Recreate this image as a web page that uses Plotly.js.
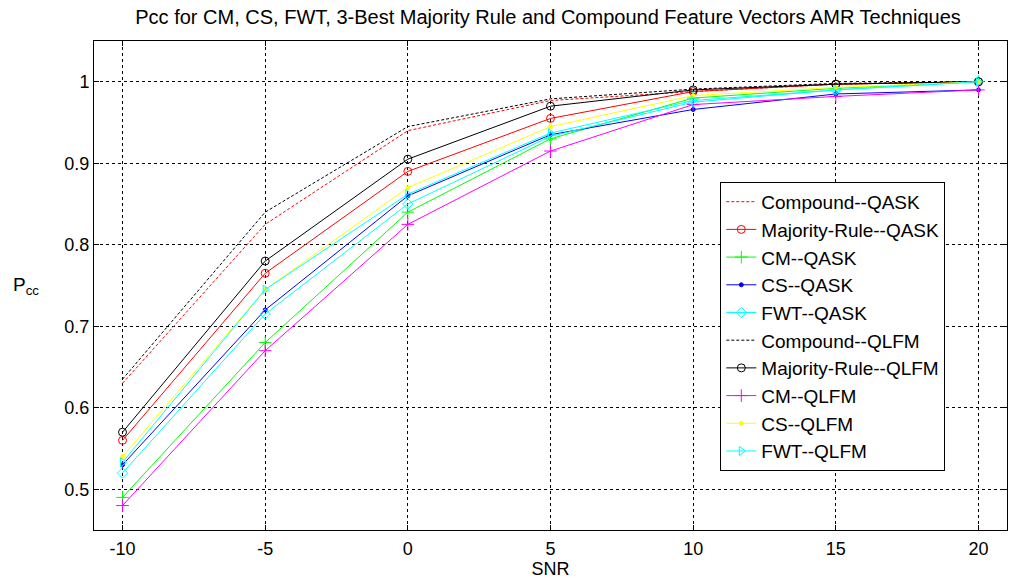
<!DOCTYPE html>
<html>
<head>
<meta charset="utf-8">
<script src="https://cdn.plot.ly/plotly-3.0.1.min.js"></script>
<style>html,body{margin:0;padding:0;background:#fff;}#chart{width:1013px;height:581px;}</style>
</head>
<body>
<div id="chart"></div>
<script>
const snr = [-10, -5, 0, 5, 10, 15, 20];
const xTickLabels = ['-10', '-5', '0', '5', '10', '15', '20'];
const yTickVals = [0.5, 0.6, 0.7, 0.8, 0.9, 1];
const yTickLabels = ['0.5', '0.6', '0.7', '0.8', '0.9', '1'];

const compoundQASK = [0.63, 0.825, 0.94, 0.977, 0.988, 0.997, 1.0];
const majorityQASK = [0.56, 0.765, 0.89, 0.955, 0.988, 0.997, 1.0];
const cmQASK = [0.49, 0.68, 0.84, 0.93, 0.98, 0.992, 1.0];
const csQASK = [0.53, 0.72, 0.86, 0.935, 0.966, 0.985, 0.99];
const fwtQASK = [0.52, 0.715, 0.85, 0.933, 0.975, 0.99, 1.0];
const compoundQLFM = [0.635, 0.84, 0.945, 0.979, 0.991, 0.998, 1.0];
const majorityQLFM = [0.57, 0.78, 0.905, 0.97, 0.99, 0.997, 1.0];
const cmQLFM = [0.48, 0.67, 0.825, 0.915, 0.972, 0.982, 0.99];
const csQLFM = [0.54, 0.745, 0.87, 0.945, 0.983, 0.993, 1.0];
const fwtQLFM = [0.533, 0.745, 0.862, 0.937, 0.977, 0.99, 1.0];

const names = ['Compound--QASK', 'Majority-Rule--QASK', 'CM--QASK', 'CS--QASK', 'FWT--QASK',
               'Compound--QLFM', 'Majority-Rule--QLFM', 'CM--QLFM', 'CS--QLFM', 'FWT--QLFM'];

function tr(name, y, color, dash, symbol, msize) {
  const t = {
    x: snr, y: y, name: name, type: 'scatter',
    mode: symbol ? 'lines+markers' : 'lines',
    line: {color: color, width: 1, dash: dash || 'solid'}
  };
  if (symbol) t.marker = {symbol: symbol, size: msize || 7, color: color, line: {color: color, width: 1}};
  return t;
}

const data = [
  tr(names[0], compoundQASK, '#ff0000', '3px,2px', null),
  tr(names[1], majorityQASK, '#ff0000', 'solid', 'circle-open', 8),
  tr(names[2], cmQASK, '#00ff00', 'solid', 'cross-thin-open', 9),
  tr(names[3], csQASK, '#0000ff', 'solid', 'circle', 4),
  tr(names[4], fwtQASK, '#00ffff', 'solid', 'diamond-open', 8),
  tr(names[5], compoundQLFM, '#000000', '3px,2px', null),
  tr(names[6], majorityQLFM, '#000000', 'solid', 'circle-open', 8),
  tr(names[7], cmQLFM, '#ff00ff', 'solid', 'cross-thin-open', 9),
  tr(names[8], csQLFM, '#ffff00', 'solid', 'circle', 4),
  tr(names[9], fwtQLFM, '#00ffff', 'solid', 'triangle-right-open', 8)
];

const FAM = 'Liberation Sans, Arial, sans-serif';
const font = {family: FAM, size: 18, color: '#000'};

const layout = {
  width: 1013, height: 581,
  margin: {l: 94, r: 6, t: 41, b: 51},
  paper_bgcolor: '#fff', plot_bgcolor: '#fff',
  font: font,
  title: {text: 'Pcc for CM, CS, FWT, 3-Best Majority Rule and Compound Feature Vectors AMR Techniques',
          font: {family: FAM, size: 20, color: '#000'},
          x: 0.541, xanchor: 'center', y: 0.97, yanchor: 'middle'},
  xaxis: {
    range: [-11, 21], tickvals: snr, ticktext: xTickLabels,
    showline: true, linecolor: '#000', linewidth: 1, mirror: 'allticks',
    ticks: 'inside', ticklen: 5, tickcolor: '#000',
    showgrid: true, gridcolor: '#000', griddash: 'dot', gridwidth: 1,
    zeroline: false, tickfont: font, ticklabelstandoff: 2,
    title: {text: 'SNR', font: font, standoff: 0}
  },
  yaxis: {
    range: [0.45, 1.05], tickvals: yTickVals, ticktext: yTickLabels,
    showline: true, linecolor: '#000', linewidth: 1, mirror: 'allticks',
    ticks: 'inside', ticklen: 5, tickcolor: '#000',
    showgrid: true, gridcolor: '#000', griddash: 'dot', gridwidth: 1,
    zeroline: false, tickfont: font, ticklabelstandoff: 0
  },
  legend: {
    x: 0.686, y: 0.712, xanchor: 'left', yanchor: 'top',
    bgcolor: '#fff', bordercolor: '#000', borderwidth: 1,
    font: {family: FAM, size: 19, color: '#000'},
    tracegroupgap: 0
  },
  showlegend: true,
  annotations: [{
    text: 'P<sub>cc</sub>', xref: 'paper', yref: 'paper', x: -0.074, y: 0.5,
    xanchor: 'center', yanchor: 'middle', showarrow: false, font: {family: FAM, size: 19, color: '#000'}
  }]
};

Plotly.newPlot('chart', data, layout, {displayModeBar: false, staticPlot: true});
</script>
</body>
</html>
